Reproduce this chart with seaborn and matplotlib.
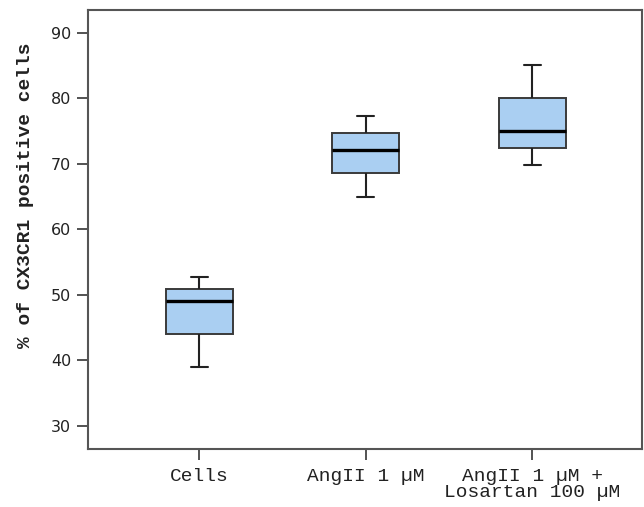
import matplotlib
matplotlib.use("Agg")
import matplotlib.pyplot as plt
import seaborn as sns
import pandas as pd

categories = ["Cells", "AngII 1 µM", "AngII 1 µM +\nLosartan 100 µM"]
# five-number summaries: min, q1, median, q3, max
cells_vals = [39.0, 44.1, 49.0, 50.9, 52.7]
angii_vals = [65.0, 68.6, 72.1, 74.7, 77.3]
losartan_vals = [69.8, 72.4, 75.0, 80.0, 85.0]
yticks = [30, 40, 50, 60, 70, 80, 90]

rows = []
for cat, vals in zip(categories, [cells_vals, angii_vals, losartan_vals]):
    for v in vals:
        rows.append({"group": cat, "value": v})
df = pd.DataFrame(rows)

sns.set_theme(style="white")
fig = plt.figure(figsize=(6.44, 5.07), dpi=100)
ax = fig.add_axes([0.1366, 0.1144, 0.997 - 0.1366, 0.981 - 0.1144])

edge = "#3a3a3a"
sns.boxplot(data=df, x="group", y="value", order=categories, ax=ax,
            width=0.4, whis=(0, 100), color="#aacff2", saturation=1,
            linecolor=edge, linewidth=1.4,
            medianprops=dict(color="black", linewidth=2.4),
            whiskerprops=dict(color="#222222", linewidth=1.5),
            capprops=dict(color="#222222", linewidth=1.5),
            boxprops=dict(edgecolor=edge, linewidth=1.4))

# shorten caps to match reference
for cont in ax.containers:
    try:
        caps = cont.caps
    except AttributeError:
        continue
    for cap in caps:
        xd = cap.get_xdata()
        c = (xd[0] + xd[1]) / 2
        cap.set_xdata([c - 0.052, c + 0.052])

ax.set_xlim(-0.668, 2.659)
ax.set_ylim(26.5, 93.5)
ax.set_yticks(yticks)
ax.set_yticklabels([str(t) for t in yticks], fontsize=11.5, family="DejaVu Sans", color="#222222")
ax.set_xticks(range(len(categories)))
ax.set_xticklabels(categories, fontsize=14, family="Liberation Mono", color="#222222", linespacing=0.9)
ax.set_xlabel("")
ax.set_ylabel("% of CX3CR1 positive cells", fontsize=14, family="Liberation Mono",
              fontweight="bold", color="#222222")
ax.yaxis.set_label_coords(-0.097, 0.578)

for s in ax.spines.values():
    s.set_color("#555555")
    s.set_linewidth(1.5)
ax.tick_params(axis="both", which="major", direction="out", length=8, width=1.3,
               color="#444444", left=True, bottom=True, pad=4)
ax.tick_params(axis="x", pad=6)

fig.savefig("out.png", dpi=100)
